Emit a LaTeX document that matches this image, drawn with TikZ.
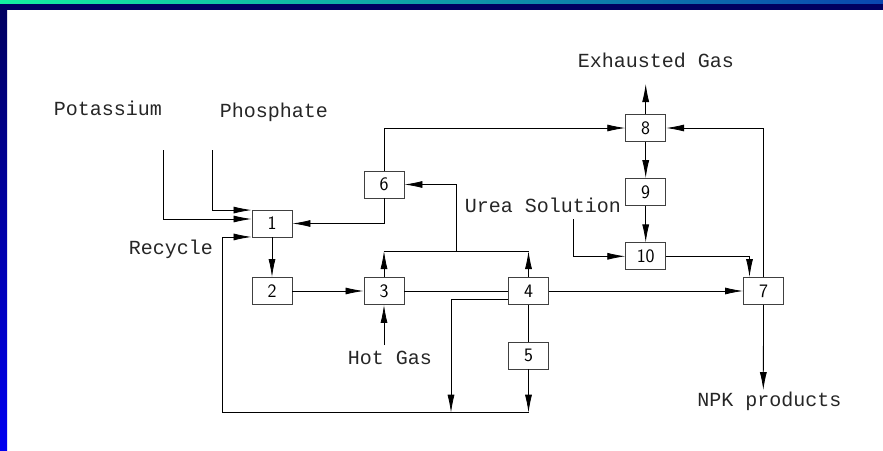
\documentclass[tikz,border=0pt]{standalone}
\usepackage{fontspec}
\newfontfamily\labelfont{Liberation Mono}
\usetikzlibrary{positioning, arrows.meta}

\definecolor{slidenavy}{RGB}{0,0,96}
\definecolor{slideblue}{RGB}{0,0,240}
\definecolor{slidegreen}{RGB}{20,240,160}
\definecolor{slideteal}{RGB}{10,70,176}

\tikzset{
  unit/.style={draw=black!75, line width=0.9pt, minimum width=40pt, minimum height=27pt,
    inner sep=0pt, font=\sffamily\fontsize{19}{19}\selectfont},
  stream/.style={draw=black, line width=0.8pt},
  feed/.style={inner sep=0pt, anchor=base, text=black!85,
    font=\labelfont\fontsize{20}{20}\selectfont},
}

\begin{document}
\begin{tikzpicture}[x=1pt, y=-1pt, >={Latex[length=18pt,width=7pt]}]
    % slide frame
    \useasboundingbox (0,0) rectangle (883,450);
    \shade[left color=slidegreen, right color=slideteal] (0,0) rectangle (883,4);
    \fill[slidenavy] (0,4) rectangle (883,10);
    \shade[top color=slidenavy, bottom color=slideblue] (0,10) rectangle (7,450);

    % process units
    \node[unit] (u2) at (272,291) {2};
    \node[unit] (u1) [above of=u2, node distance=67.5pt] {1};
    \node[unit] (u3) [right of=u2, node distance=112pt] {3};
    \node[unit] (u4) [right of=u3, node distance=144.5pt] {4};
    \node[unit] (u7) [right of=u4, node distance=235pt] {7};
    \node[unit] (u5) [below of=u4, node distance=64.5pt] {5};
    \node[unit] (u6) [above of=u3, node distance=106.5pt] {6};
    \node[unit] (u10) at (645.7,256.3) {10};
    \node[unit] (u9) [above of=u10, node distance=64.3pt] {9};
    \node[unit] (u8) [above of=u9, node distance=64pt] {8};

    % feeds and products
    \node[feed] (potassium) at (108,115) {Potassium};
    \node[feed] (phosphate) at (274,117.5) {Phosphate};
    \node[feed] (recycle) at (171,254.5) {Recycle};
    \node[feed] (hotgas) at (390,364) {Hot Gas};
    \node[feed] (urea) at (543,212.7) {Urea Solution};
    \node[feed] (exhaust) at (656,67.7) {Exhausted Gas};
    \node[feed] (npk) at (769.5,406.7) {NPK products};

    \coordinate (kin) at (163.3,150);
    \coordinate (pin) at (212.3,150);
    \coordinate (rin) at (222.3,412.7);
    \coordinate (hin) at (384,345);
    \coordinate (uin) at (573.3,219.3);
    \coordinate (exh) at (645.7,84);
    \coordinate (npkout) at (763.3,390);
    \coordinate (split) at (456,251);
    \coordinate (drop) at (451,412.7);

    % streams
    \draw[stream,->] (kin) |- ([yshift=4.5pt]u1.west);
    \draw[stream,->] (pin) |- ([yshift=-0.5pt]u1.north west);
    \draw[stream,->] (rin) |- ([yshift=0.5pt]u1.south west);
    \draw[stream] (rin) -- (u5 |- rin);
    \draw[stream,->] (u1) -- (u2);
    \draw[stream,->] (u2) -- (u3);
    \draw[stream,->] (hin) -- (u3.south);
    \draw[stream] (u3) -- (u4);
    \draw[stream,->] (u3.north) -- (u3.north |- split);
    \draw[stream,->] (u4.north) -- (u4.north |- split);
    \draw[stream] (u3.north |- split) -- (u4.north |- split);
    \draw[stream,->] (split) |- (u6.east);
    \draw[stream,->] (u6.south) |- (u1.east);
    \draw[stream,->] (u6.north) |- (u8.west);
    \draw[stream,->] ([yshift=-8.3pt]u4.west) -| (drop);
    \draw[stream] (u4) -- (u5);
    \draw[stream,->] (u5.south) -- (u5 |- rin);
    \draw[stream,->] (u4) -- (u7);
    \draw[stream,->] (u7.north) |- (u8.east);
    \draw[stream,->] (u8) -- (exh);
    \draw[stream,->] (u8) -- (u9);
    \draw[stream,->] (u9) -- (u10);
    \draw[stream,->] (uin) |- (u10.west);
    \draw[stream,->] (u10.east) -| ([xshift=-14pt]u7.north);
    \draw[stream,->] (u7) -- (npkout);
\end{tikzpicture}
\end{document}
